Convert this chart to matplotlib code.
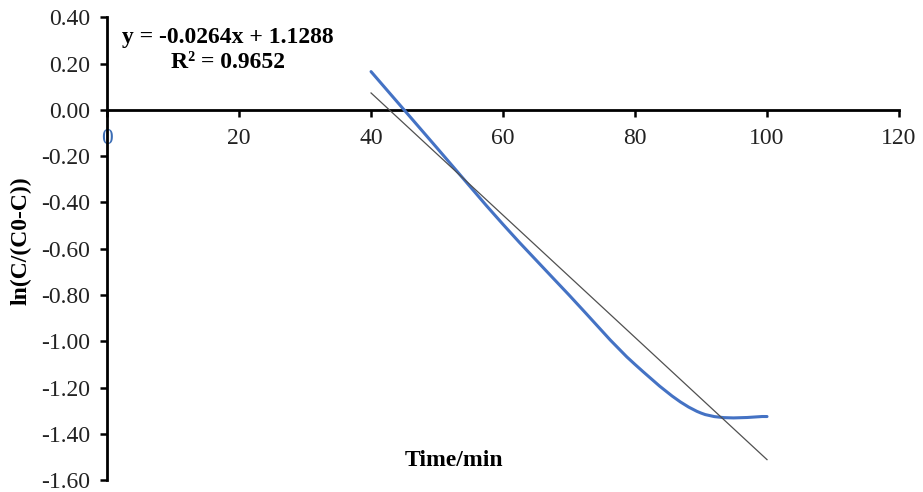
import matplotlib
matplotlib.use("Agg")
import matplotlib.pyplot as plt
import numpy as np
from matplotlib.path import Path
from matplotlib.patches import PathPatch

plt.rcParams['font.family'] = ['Liberation Serif', 'DejaVu Serif']

# data
time_min = [40, 50, 60, 70, 80, 90, 100]
ln_ratio = [0.165, -0.165, -0.495, -0.80, -1.10, -1.31, -1.325]
slope = -0.0264
intercept = 1.1288
r_squared = 0.9652

x_ticks = [0, 20, 40, 60, 80, 100, 120]
y_ticks = [0.40, 0.20, 0.00, -0.20, -0.40, -0.60, -0.80, -1.00, -1.20, -1.40, -1.60]


def smooth_path(xs, ys):
    # Excel-like smoothed line as cubic Bezier segments (Catmull-Rom control points)
    pts = np.column_stack([xs, ys]).astype(float)
    padded = np.vstack([pts[0], pts, pts[-1]])
    verts = [tuple(pts[0])]
    codes = [Path.MOVETO]
    for i in range(1, len(padded) - 2):
        p0, p1, p2, p3 = padded[i - 1], padded[i], padded[i + 1], padded[i + 2]
        c1 = p1 + (p2 - p0) / 6.0
        c2 = p2 - (p3 - p1) / 6.0
        verts += [tuple(c1), tuple(c2), tuple(p2)]
        codes += [Path.CURVE4] * 3
    return Path(verts, codes)


fig = plt.figure(figsize=(9.23, 4.92), dpi=100)
ax = fig.add_axes([0.116, 0.024, 0.858, 0.941])

ax.set_xlim(0, 120)
ax.set_ylim(-1.6, 0.4)

patch = PathPatch(smooth_path(time_min, ln_ratio), facecolor='none',
                  edgecolor='#4472C4', lw=2.2, zorder=3, capstyle='round')
ax.add_patch(patch)

trend_x = np.array([time_min[0], time_min[-1]])
ax.plot(trend_x, slope * trend_x + intercept, color='#505050', lw=0.9, zorder=4)

ax.spines['top'].set_visible(False)
ax.spines['right'].set_visible(False)
ax.spines['bottom'].set_position(('data', 0))
ax.spines['left'].set_linewidth(2.0)
ax.spines['bottom'].set_linewidth(2.0)

ax.set_xticks(x_ticks)
ax.set_xticklabels([str(t) for t in x_ticks])
ax.set_yticks(y_ticks)
ax.set_yticklabels(['%.2f' % v for v in y_ticks])
ax.tick_params(axis='both', direction='out', length=5, width=1.8,
               labelsize=17, colors='black', labelcolor='#222222')
ax.tick_params(axis='x', pad=8)
ax.tick_params(axis='y', pad=7)
ax.get_xticklabels()[0].set_color('#3b6db5')

ax.set_ylabel('ln(C/(C0-C))', fontsize=17, fontweight='bold')
ax.yaxis.set_label_coords(-0.095, 0.518)
ax.text(52.5, -1.515, 'Time/min', fontsize=17, fontweight='bold',
        ha='center', va='center')

ax.text(18.3, 0.314, 'y = %.4fx + %.4f' % (slope, intercept), fontsize=17,
        fontweight='bold', ha='center', va='center')
ax.text(18.3, 0.206, 'R² = %.4f' % r_squared, fontsize=17,
        fontweight='bold', ha='center', va='center')

fig.savefig('out.png', dpi=100)
